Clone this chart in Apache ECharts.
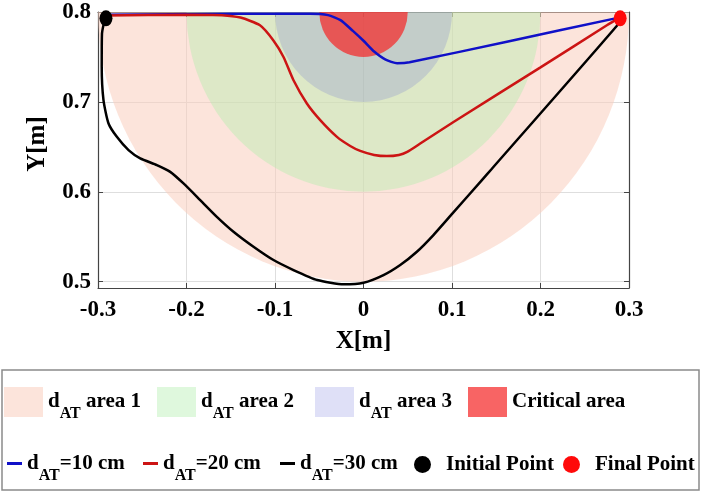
<!DOCTYPE html>
<html>
<head>
<meta charset="utf-8">
<script src="https://cdn.jsdelivr.net/npm/echarts@6/dist/echarts.min.js"></script>
<style>
  html, body { margin: 0; padding: 0; background: #fff; }
  #main { width: 702px; height: 495px; }
</style>
</head>
<body>
<div id="main"></div>
<script>
// areas: semicircles round the obstacle centre
const areaNames = ['d_AT area 1', 'd_AT area 2', 'd_AT area 3', 'Critical area'];
const areaCenter = [0, 0.8];
const areaRadii = [0.3, 0.2, 0.1, 0.05];
const areaColors = ['rgba(250,205,190,0.55)', 'rgba(175,237,170,0.4)', 'rgba(78,83,211,0.18)', 'rgba(245,40,40,0.72)'];

// trajectories
const lineNames = ['d_AT=10 cm', 'd_AT=20 cm', 'd_AT=30 cm'];
const lineColors = ['#1010c8', '#cc1414', '#000000'];

const blueX = [-0.291, -0.15, -0.06, -0.04, -0.026, -0.012, 0.0, 0.012, 0.025, 0.038, 0.052, 0.162, 0.29];
const blueY = [0.797, 0.798, 0.798, 0.7965, 0.791, 0.779, 0.768, 0.756, 0.747, 0.743, 0.744, 0.767, 0.794];

const redX = [-0.291, -0.2, -0.16, -0.139, -0.117, -0.102, -0.0904, -0.0791, -0.064, -0.0489, -0.03, -0.015, -0.0037, 0.012, 0.0264, 0.04, 0.0494, 0.0641, 0.1017, 0.2, 0.275, 0.29];
const redY = [0.796, 0.797, 0.7965, 0.7938, 0.7852, 0.7686, 0.75, 0.7241, 0.6982, 0.6797, 0.6611, 0.651, 0.6455, 0.641, 0.6397, 0.641, 0.6444, 0.6537, 0.6777, 0.7384, 0.7852, 0.794];

const blackX = [-0.292, -0.2955, -0.2958, -0.2938, -0.2881, -0.2787, -0.2655, -0.2523, -0.2335, -0.2184, -0.2034, -0.1845, -0.1657, -0.1469, -0.1243, -0.1017, -0.0791, -0.0523, -0.0223, 0.0, 0.0226, 0.0415, 0.0603, 0.079, 0.1006, 0.1338, 0.1451, 0.2866, 0.29];
const blackY = [0.793, 0.776, 0.739, 0.702, 0.676, 0.6611, 0.6463, 0.6371, 0.6297, 0.6222, 0.6093, 0.5908, 0.5722, 0.5556, 0.5389, 0.5241, 0.513, 0.5019, 0.4971, 0.4989, 0.5074, 0.5186, 0.5333, 0.5519, 0.576, 0.613, 0.6257, 0.785, 0.793];

const pointNames = ['Initial Point', 'Final Point'];
const pointColors = ['#000000', '#ff0a0a'];
const pointXY = [[-0.291, 0.793], [0.29, 0.793]];

const xRange = [-0.3, 0.3];
const yRange = [0.493, 0.8];

const font = 'Liberation Serif';

const chart = echarts.init(document.getElementById('main'));

const zip = (xs, ys) => xs.map((x, i) => [x, ys[i]]);

const areaSeries = areaNames.map((name, i) => ({
    name,
    type: 'custom',
    clip: true,
    itemStyle: { color: areaColors[i] },
    data: [[areaCenter[0], areaCenter[1], areaRadii[i]]],
    z: 1,
    renderItem: (params, api) => {
        const c = api.coord([api.value(0), api.value(1)]);
        const rx = api.size([api.value(2), 0])[0];
        const ry = api.size([0, api.value(2)])[1];
        return {
            type: 'sector',
            x: c[0],
            y: c[1],
            scaleY: ry / rx,
            shape: { cx: 0, cy: 0, r0: 0, r: rx, startAngle: 0, endAngle: Math.PI, clockwise: true },
            style: { fill: areaColors[i] }
        };
    }
}));

const lineData = [zip(blueX, blueY), zip(redX, redY), zip(blackX, blackY)];
const lineSeries = lineNames.map((name, i) => ({
    name,
    type: 'line',
    data: lineData[i],
    showSymbol: false,
    smooth: 0.2,
    z: 3,
    itemStyle: { color: lineColors[i] },
    lineStyle: { color: lineColors[i], width: 2.5 }
}));

const pointSeries = pointNames.map((name, i) => ({
    name,
    type: 'scatter',
    data: [pointXY[i]],
    symbol: 'circle',
    symbolSize: [13, 16],
    z: 4,
    itemStyle: { color: pointColors[i], opacity: 1 }
}));

// legend texts with subscript "AT"
const base = { fontFamily: font, fontWeight: 'bold', color: '#000' };
const rich = {
    m: { ...base, fontSize: 21, lineHeight: 40, verticalAlign: 'middle' },
    s: { ...base, fontSize: 16, lineHeight: 16, verticalAlign: 'bottom' },
    p: { ...base, fontSize: 21, lineHeight: 40, verticalAlign: 'middle', padding: [0, 0, 0, 10] }
};
const fmt = (name) => {
    if (name.indexOf('d_AT') === 0) return '{m|d}{s|AT}{m|' + name.slice(4) + '}';
    if (name === 'Critical area') return '{m|' + name + '}';
    return '{p|' + name + '}';
};

const legendItems = [
    { name: areaNames[0], left: 4, top: 387, icon: 'rect', w: 39, h: 30 },
    { name: areaNames[1], left: 157, top: 387, icon: 'rect', w: 39, h: 30 },
    { name: areaNames[2], left: 315, top: 387, icon: 'rect', w: 39, h: 30 },
    { name: areaNames[3], left: 468, top: 387, icon: 'rect', w: 39, h: 30 },
    { name: lineNames[0], left: 7, top: 453, icon: 'rect', w: 15, h: 3 },
    { name: lineNames[1], left: 143, top: 453, icon: 'rect', w: 15, h: 3 },
    { name: lineNames[2], left: 280, top: 453, icon: 'rect', w: 15, h: 3 },
    { name: pointNames[0], left: 414, top: 454, icon: 'circle', w: 17, h: 17 },
    { name: pointNames[1], left: 563, top: 454, icon: 'circle', w: 17, h: 17 }
];

const legends = legendItems.map(it => ({
    left: it.left,
    top: it.top,
    itemWidth: it.w,
    itemHeight: it.h,
    selectedMode: false,
    padding: 0,
    data: [{ name: it.name, icon: it.icon }],
    formatter: fmt,
    textStyle: { rich }
}));

const axisText = { fontFamily: font, fontWeight: 'bold', fontSize: 23, color: '#000' };
const nameText = { fontFamily: font, fontWeight: 'bold', fontSize: 25, color: '#000' };
const lineCol = '#444';
const axisLine = { show: true, onZero: false, lineStyle: { color: lineCol, width: 1.2 } };
const axisTick = { show: true, inside: true, length: 5, lineStyle: { color: lineCol } };
const grid = { show: true, lineStyle: { color: '#dedede', width: 1 } };

chart.setOption({
    animation: false,
    backgroundColor: '#fff',
    grid: { left: 98, right: 73, top: 12, bottom: 207, containLabel: false },
    xAxis: [{
        type: 'value', min: xRange[0], max: xRange[1], interval: 0.1,
        name: 'X[m]', nameLocation: 'middle', nameGap: 41, nameTextStyle: nameText,
        axisLine, axisTick,
        axisLabel: { ...axisText, margin: 11, formatter: v => (Math.abs(v) < 1e-9 ? '0' : v.toFixed(1)) },
        splitLine: grid
    }, {
        type: 'value', min: xRange[0], max: xRange[1], interval: 0.1, position: 'top',
        axisLine, axisTick,
        axisLabel: { show: false },
        splitLine: { show: false }
    }],
    yAxis: [{
        type: 'value', min: yRange[0], max: yRange[1], splitNumber: 3,
        name: 'Y[m]', nameLocation: 'middle', nameGap: 48,
        nameTextStyle: { ...nameText, padding: [0, 0, 0, 12] },
        axisLine, axisTick,
        axisLabel: { ...axisText, margin: 7, showMinLabel: false, formatter: v => v.toFixed(1) },
        splitLine: grid
    }, {
        type: 'value', min: yRange[0], max: yRange[1], splitNumber: 3, position: 'right',
        axisLine, axisTick,
        axisLabel: { show: false },
        splitLine: { show: false }
    }],
    legend: legends,
    graphic: [{
        type: 'rect',
        shape: { x: 2, y: 370, width: 697, height: 120 },
        style: { fill: 'none', stroke: '#8a8a8a', lineWidth: 1.5 },
        silent: true
    }],
    series: [...areaSeries, ...lineSeries, ...pointSeries]
});
</script>
</body>
</html>
